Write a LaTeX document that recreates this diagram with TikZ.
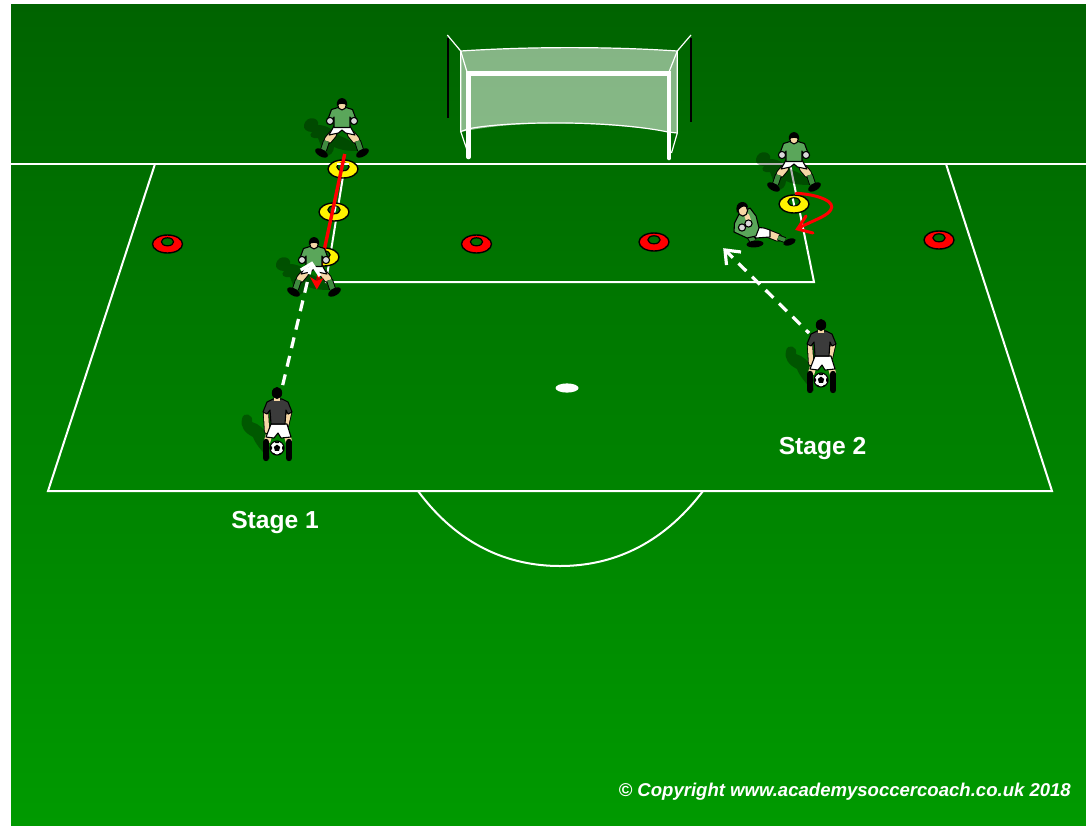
\documentclass[tikz,border=0pt]{standalone}
\usepackage{fontspec}
\setmainfont{Liberation Sans}
\usetikzlibrary{arrows.meta}
\definecolor{turfA}{HTML}{006300}
\definecolor{turfB}{HTML}{007E00}
\definecolor{turfC}{HTML}{009A00}
\definecolor{jersey}{HTML}{5AA65A}
\definecolor{sockgreen}{HTML}{3F8A3F}
\definecolor{skin}{HTML}{F6D7A5}
\definecolor{darkshirt}{HTML}{3B3B3B}
\definecolor{holegreen}{HTML}{006F00}
\definecolor{conered}{HTML}{FF0000}
\definecolor{coneyellow}{HTML}{FFF200}
\tikzset{
  pitchline/.style={draw=white,line width=2pt},
  netline/.style={draw=white,line width=1.2pt},
  post/.style={draw=white,line width=4.6pt,line cap=round,line join=miter},
  stanchion/.style={draw=black,line width=1.6pt},
  outl/.style={draw=black,line width=1.1pt,line join=round},
  limb/.style={line width=#1,line cap=round},
  passline/.style={draw=white,line width=3.2pt,dash pattern=on 11pt off 8pt},
  barbwhite/.style={draw=white,line width=3.2pt,line join=miter},
  runred/.style={draw=red,line width=3.4pt},
  turnred/.style={draw=red,line width=3pt,line cap=round,line join=miter},
  label/.style={text=white,font=\bfseries\fontsize{24.6}{28}\selectfont,inner sep=0pt},
  copyr/.style={text=white,font=\bfseries\itshape\fontsize{18.55}{23}\selectfont,inner sep=0pt},
  shadowblob/.style={fill=black,opacity=.3},
  cone/.pic={
    \path[outl,fill=#1,line width=1.4pt] (0,0) ellipse [x radius=15,y radius=9];
    \path[outl,fill=holegreen,line width=1.2pt] (0,-2.2) ellipse [x radius=6.2,y radius=4];
  },
  shadowkeep/.pic={
    \fill[shadowblob] (-38,-8) .. controls (-36,-18) and (-22,-16) .. (-24,-8)
      .. controls (-14,-8) and (-8,-2) .. (-2,3)
      .. controls (6,6) and (14,10) .. (16,18)
      .. controls (6,18) and (-2,17) .. (-8,14)
      .. controls (-8,19) and (-12,24) .. (-18,23)
      .. controls (-20,16) and (-22,10) .. (-24,5)
      .. controls (-30,6) and (-34,3) .. (-30,-1)
      .. controls (-35,-1) and (-39,-4) .. (-38,-8) -- cycle;
  },
  shadowserve/.pic={
    \fill[shadowblob] (-35,-6) .. controls (-34,-14) and (-23,-11) .. (-25,-3)
      .. controls (-18,-1) and (-12,4) .. (-9,12)
      -- (-7,34) .. controls (-15,27) and (-22,18) .. (-24,12)
      .. controls (-32,8) and (-37,2) .. (-35,-6) -- cycle;
  },
  keeperpic/.pic={
    % legs
    \draw[limb=8.5pt,black] (-9,1) -- (-14,7);
    \draw[limb=8.5pt,black] (9,1) -- (14,7);
    \draw[limb=6.6pt,skin] (-9,1) -- (-14,7);
    \draw[limb=6.6pt,skin] (9,1) -- (14,7);
    \draw[limb=6.8pt,black,line cap=butt] (-15.5,8) -- (-18.5,17);
    \draw[limb=6.8pt,black,line cap=butt] (15.5,8) -- (18.5,17);
    \draw[limb=5pt,sockgreen,line cap=butt] (-15.5,8) -- (-18.5,17);
    \draw[limb=5pt,sockgreen,line cap=butt] (15.5,8) -- (18.5,17);
    \fill[black,rotate around={-30:(-20.5,20)}] (-20.5,20) ellipse [x radius=7,y radius=3.6];
    \fill[black,rotate around={30:(20.5,20)}] (20.5,20) ellipse [x radius=7,y radius=3.6];
    % shorts
    \path[outl,fill=white] (-8,-7) -- (8,-7) -- (13,2) -- (3.5,0) -- (0,-3) -- (-3.5,0) -- (-13,2) -- cycle;
    % shirt
    \path[outl,fill=jersey] (-4,-25.5) -- (4,-25.5) -- (10.5,-23.5) -- (14,-14) -- (9.5,-12.5) -- (8,-16) -- (8,-5.5) -- (-8,-5.5) -- (-8,-16) -- (-9.5,-12.5) -- (-14,-14) -- (-10.5,-23.5) -- cycle;
    % gloves
    \path[outl,fill=black!15] (-12,-12) circle (3.6);
    \path[outl,fill=black!15] (12,-12) circle (3.6);
    % head
    \path[fill=skin] (-2.4,-27) rectangle (2.4,-23.5);
    \path[outl,fill=skin] (0,-28.5) ellipse [x radius=4.4,y radius=5.4];
    \fill[black] (-5,-27) .. controls (-7,-37.5) and (7,-37.5) .. (5,-27) .. controls (3,-30) and (-3,-30) .. (-5,-27) -- cycle;
  },
  sliderpic/.pic={
    % rear leg
    \draw[limb=7.5pt,black,line cap=butt] (7,24) -- (11,31);
    \draw[limb=5.5pt,sockgreen,line cap=butt] (7,24) -- (11,31);
    \fill[black,rotate around={5:(13,34)}] (13,34) ellipse [x radius=8.5,y radius=3.4];
    % front leg
    \draw[limb=8.5pt,black] (26,23.5) -- (36,27.5);
    \draw[limb=6.5pt,skin] (26,23.5) -- (36,27.5);
    \draw[limb=5.8pt,black,line cap=butt] (36,27.5) -- (43,30);
    \draw[limb=4pt,sockgreen,line cap=butt] (36,27.5) -- (43,30);
    \fill[black,rotate around={20:(47.5,32)}] (47.5,32) ellipse [x radius=6.5,y radius=3.2];
    % shorts
    \path[outl,fill=white] (11,17) -- (22,18) -- (28,20) -- (28,27) -- (14,28) -- (9,25) -- cycle;
    % shirt
    \path[outl,fill=jersey] (-7.5,13) -- (-3,4) -- (8,-2) -- (14,6) -- (17,18) -- (14,26) -- (5,28) -- (-8,22) -- cycle;
    % gloves and arm
    \draw[limb=5pt,skin] (5,6) -- (7,12);
    \path[outl,fill=black!15] (0,17.5) circle (3.6);
    \path[outl,fill=black!15] (6.5,13.5) circle (3.6);
    % head
    \path[outl,fill=skin] (0.8,0.5) ellipse [x radius=4.8,y radius=5.6];
    \fill[black] (-5,3) .. controls (-9,-10) and (6,-11) .. (6,-2.5) .. controls (2,-5) and (-2,-3.5) .. (-5,3) -- cycle;
  },
  serverpic/.pic={
    % arms
    \draw[limb=6pt,black] (-11,-12) -- (-10,6);
    \draw[limb=6pt,black] (12,-12) -- (9,1);
    \draw[limb=4.4pt,skin] (-11,-12) -- (-10,6);
    \draw[limb=4.4pt,skin] (12,-12) -- (9,1);
    % thighs
    \draw[limb=6.5pt,skin,line cap=butt] (-8,10) -- (-10,17);
    \draw[limb=6.5pt,skin,line cap=butt] (10,10) -- (12,17);
    % socks and boots
    \draw[black,line width=6.4pt,line cap=round] (-11,17) -- (-11,33);
    \draw[black,line width=6.4pt,line cap=round] (12,17) -- (12,33);
    % shorts
    \path[outl,fill=white] (-6,-1) -- (10,-1) -- (14,12) -- (4,13) -- (1,8) -- (-3,13) -- (-11,12) -- cycle;
    % shirt
    \path[outl,fill=darkshirt] (-4,-26) -- (5,-26) -- (11,-23) -- (15,-13) -- (11,-11) -- (9,-15) -- (8,-1) -- (-6,-1) -- (-7,-15) -- (-10,-11) -- (-14,-13) -- (-10,-23) -- cycle;
    % head
    \fill[skin] (-3,-28) rectangle (3,-24.5);
    \fill[black] (0,-32) ellipse [x radius=5.2,y radius=6];
    % ball
    \path[outl,fill=white] (0,23) circle (7);
    \fill[black] (0,19.6) -- (3.2,22) -- (2,25.8) -- (-2,25.8) -- (-3.2,22) -- cycle;
    \fill[black] (-2.6,16.3) -- (2.6,16.3) -- (1.6,18) -- (-1.6,18) -- cycle;
    \fill[black] (7,20.5) -- (7,25.5) -- (5,24.2) -- (5,21.8) -- cycle;
    \fill[black] (-7,20.5) -- (-7,25.5) -- (-5,24.2) -- (-5,21.8) -- cycle;
    \fill[black] (-5,27.5) -- (-2.4,28.2) -- (-2,30) -- (-3.6,29.4) -- cycle;
    \fill[black] (5,27.5) -- (2.4,28.2) -- (2,30) -- (3.6,29.4) -- cycle;
  },
}
\begin{document}
\begin{tikzpicture}[x=1pt,y=-1pt]
\useasboundingbox (0,0) rectangle (1086,825);
\fill[white] (0,0) rectangle (1086,825);
\shade[top color=turfA,middle color=turfB,bottom color=turfC] (11,4) rectangle (1086,825);

% named points of the markings
\coordinate (glL) at (11,164);
\coordinate (glR) at (1086,164);
\coordinate (bxA) at (155,164);
\coordinate (bxB) at (48,491);
\coordinate (bxC) at (1052,491);
\coordinate (bxD) at (946,164);
\coordinate (syA) at (345,164);
\coordinate (syB) at (326,282);
\coordinate (syC) at (814,282);
\coordinate (syD) at (790,164);

% goal net
\fill[white,opacity=.52] (460.7,51) .. controls (530,46.5) and (610,46.5) .. (677.3,51) -- (677.3,133)
  .. controls (610,122) and (520,119) .. (460.7,132) -- cycle;
\draw[netline] (460.7,51) .. controls (530,46.5) and (610,46.5) .. (677.3,51);
\draw[netline] (470,128.5) .. controls (510,121) and (610,120) .. (668,132);
\draw[netline] (460.7,51) -- (460.7,131.5) -- (467,150);
\draw[netline] (460.7,51) -- (467,72);
\draw[netline] (460.7,131.5) -- (470,128.5);
\draw[netline] (677.3,51) -- (677.3,133) -- (671.5,153);
\draw[netline] (677.3,51) -- (669,72);
\draw[netline] (677.3,133) -- (668,132);
\draw[stanchion] (448,38) -- (448,118);
\draw[stanchion] (690.7,38) -- (690.7,122);
\draw[netline] (447.3,35) -- (460.7,51);
\draw[netline] (691,35) -- (677.3,51);
\draw[post] (468.5,157) -- (468.5,73.5) -- (669,73.5) -- (669,158);

% pitch
\draw[pitchline] (glL) -- (glR);
\draw[pitchline] (bxA) -- (bxB) -- (bxC) -- (bxD);
\draw[pitchline] (syA) -- (syB) -- (syC) -- (syD);
\draw[pitchline] (418,491) .. controls (458,545) and (508,566) .. (560,566) .. controls (612,566) and (662,545) .. (703,491);
\fill[white] (567,388) ellipse [x radius=11.5,y radius=4.6];

% cones
\pic (cr1) at (167.5,244) {cone=conered};
\pic (cr2) at (476.5,244) {cone=conered};
\pic (cr3) at (654,242) {cone=conered};
\pic (cr4) at (939,240) {cone=conered};
\pic (cy1) at (343,169) {cone=coneyellow};
\pic (cy2) at (334,212) {cone=coneyellow};
\pic (cy3) at (324,257) {cone=coneyellow};
\pic (cy4) at (794,204) {cone=coneyellow};
% the line seen through the cone holes
\draw[white,line width=2pt] (337,164.4) -- (349,164.4);
\draw[white,line width=2pt] (335.6,206.5) -- (334.4,212.5);
\draw[white,line width=2pt] (792.8,198.5) -- (794.2,205.5);

% run of the first keeper
\coordinate (runS) at (344.7,154);
\coordinate (runE) at (317,284);
\draw[runred] (runS) -- (runE);

% players
\pic (sh1) at (342,133) {shadowkeep};
\pic (sh2) at (794,167) {shadowkeep};
\pic (sh3) at (314,272) {shadowkeep};
\pic (sh4) at (277,425) {shadowserve};
\pic (sh5) at (821,357) {shadowserve};
\pic (k1) at (342,133) {keeperpic};
\pic (k2) at (794,167) {keeperpic};
\pic (k3) at (314,272) {keeperpic};
\pic (k4) at (742,210) {sliderpic};
\pic (s1) at (277,425) {serverpic};
\pic (s2) at (821,357) {serverpic};

% arrowhead of the run, over the keeper
\fill[red] (310,277) -- (316.7,281) -- (323.5,278) -- (316.8,289.5) -- cycle;

% serves and turn
\coordinate (p1S) at (282,388);
\coordinate (p1E) at (311.7,263.5);
\coordinate (p2S) at (809,333);
\coordinate (p2E) at (725,250);
\draw[passline] (p1E) -- (p1S);
\draw[passline] (p2E) -- (p2S);
\draw[barbwhite] (300.7,270) -- (p1E) -- (320,276);
\draw[barbwhite] (741,252) -- (p2E) -- (726.5,265);
\coordinate (tnS) at (796,193.3);
\coordinate (tnE) at (797.5,229);
\draw[turnred] (tnS) .. controls (812,194) and (832,199) .. (831.7,207) .. controls (831,216) and (812,220) .. (tnE);
\draw[turnred] (806,216) -- (tnE) -- (813,233);

% labels
\node[label] (st1) at (275,523) {Stage 1};
\node[label] (st2) at (822.5,449) {Stage 2};
\node[copyr,anchor=east] (cp) at (1071,792) {© Copyright www.academysoccercoach.co.uk 2018};
\end{tikzpicture}
\end{document}
